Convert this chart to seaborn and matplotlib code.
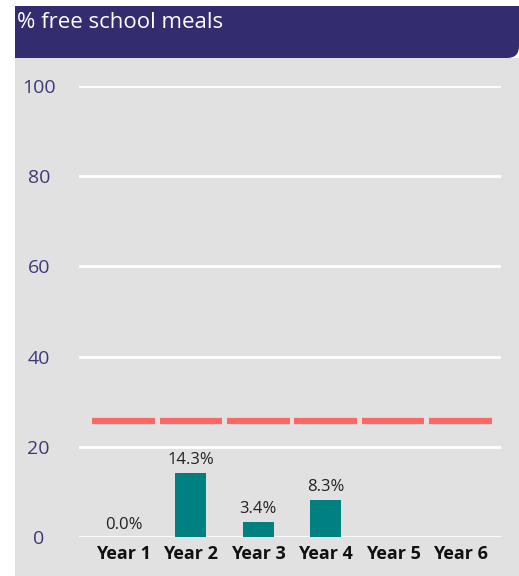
import matplotlib
matplotlib.use("Agg")
import matplotlib.pyplot as plt
import seaborn as sns
import numpy as np
from matplotlib.patches import Rectangle, FancyBboxPatch

# data
years = ["Year 1", "Year 2", "Year 3", "Year 4", "Year 5", "Year 6"]
fsm_pct = [0.0, 14.3, 3.4, 8.3, np.nan, np.nan]
national_avg = [25.7, 25.7, 25.7, 25.7, 25.7, 25.7]
title = "% free school meals"

sns.set_theme(style="white")
plt.rcParams["font.family"] = ["Open Sans", "DejaVu Sans"]

W, H = 519, 576
fig = plt.figure(figsize=(W / 100, H / 100), dpi=100)
fig.patch.set_facecolor("white")

# background panel drawn in pixel coordinates
bg = fig.add_axes([0, 0, 1, 1], zorder=0)
bg.set_xlim(0, W)
bg.set_ylim(H, 0)
bg.axis("off")
bg.add_patch(Rectangle((15, 58), W - 15, H - 58, color="#e1e1e1", lw=0))
bg.add_patch(Rectangle((15, 6), W - 45, 52, color="#332c6e", lw=0))
bg.add_patch(FancyBboxPatch((W - 60, 18), 60, 40,
                            boxstyle="round,pad=0,rounding_size=12",
                            color="#332c6e", lw=0))
bg.add_patch(Rectangle((W - 60, 6), 60, 30, color="#332c6e", lw=0))
bg.text(17, 23, title, color="white", fontsize=16, va="center", ha="left")

# main chart
ax = fig.add_axes([79 / W, (H - 537) / H, (501 - 79) / W, (537 - 86) / H], zorder=1)
ax.set_facecolor("none")

sns.barplot(x=years, y=fsm_pct, color="#008080", saturation=1, width=0.46,
            linewidth=0, ax=ax, zorder=3)

for i, v in enumerate(fsm_pct):
    if not np.isnan(v):
        ax.annotate(f"{v:.1f}%", (i, v), xytext=(0, 3), textcoords="offset points",
                    ha="center", va="bottom", fontsize=12, color="#222222")

# national average markers
for i, v in enumerate(national_avg):
    ax.hlines(v, i - 0.465, i + 0.465, color="#ff6666", lw=4.5, zorder=4)

ax.set_xlim(-0.66, 5.6)
ax.set_ylim(0, 100)
ax.set_yticks([0, 20, 40, 60, 80, 100])
ax.grid(axis="y", color="white", lw=2, zorder=0)
ax.set_axisbelow(True)
for s in ax.spines.values():
    s.set_visible(False)

ax.tick_params(axis="y", length=0, pad=29, labelsize=14, labelcolor="#3e3a78")
for t in ax.get_yticklabels():
    t.set_horizontalalignment("center")
ax.tick_params(axis="x", length=0, pad=6, labelsize=13)
for t in ax.get_xticklabels():
    t.set_fontweight("bold")
    t.set_color("#111111")

ax.set_xlabel("")
ax.set_ylabel("")

plt.savefig("out.png", dpi=100)
